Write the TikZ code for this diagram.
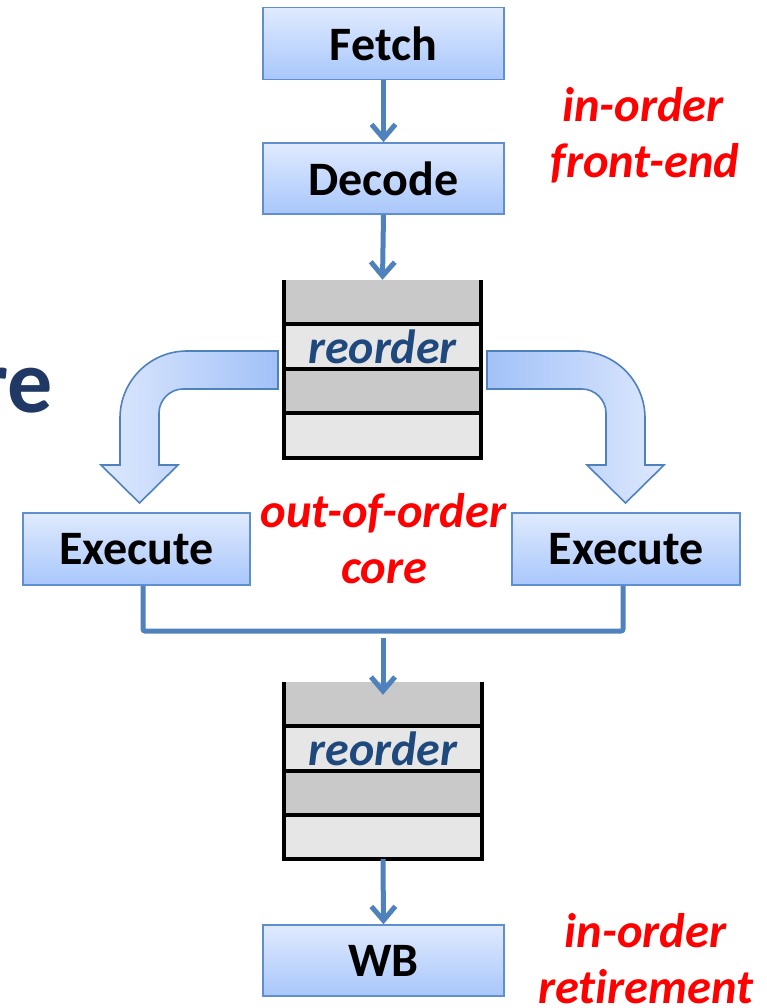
\documentclass[tikz,border=0pt]{standalone}
\usepackage{fontspec}
\setmainfont{Carlito}[Ligatures=CommonOff]
\usetikzlibrary{arrows.meta,calc}

\definecolor{flowblue}{HTML}{4F81BD}
\definecolor{boxtop}{HTML}{E0EAFE}
\definecolor{boxbot}{HTML}{A8C7FB}
\definecolor{boxedge}{HTML}{5F8FCF}
\definecolor{robdark}{HTML}{C9C9C9}
\definecolor{roblight}{HTML}{E6E6E6}
\definecolor{robtext}{HTML}{1F497D}
\definecolor{titlenavy}{HTML}{1F3864}
\definecolor{bendlight}{HTML}{DDE8FD}
\definecolor{benddark}{HTML}{A2C1F8}

% reorder buffer: four stacked slots, open at the top
\newcommand\drawrob[1]{%
  \fill[robdark] (#1.north west) rectangle ($(#1.north east)+(0,44.5)$);
  \fill[roblight] ($(#1.north west)+(0,44.5)$) rectangle ($(#1.north east)+(0,89)$);
  \fill[robdark] ($(#1.north west)+(0,89)$) rectangle ($(#1.north east)+(0,133.5)$);
  \fill[roblight] ($(#1.north west)+(0,133.5)$) rectangle (#1.south east);
  \draw[robedge] ($(#1.north west)+(0,44.5)$) -- ($(#1.north east)+(0,44.5)$);
  \draw[robedge] ($(#1.north west)+(0,89)$) -- ($(#1.north east)+(0,89)$);
  \draw[robedge] ($(#1.north west)+(0,133.5)$) -- ($(#1.north east)+(0,133.5)$);
  \draw[robedge] (#1.north west) -- (#1.south west) -- (#1.south east) -- (#1.north east);
  \node[robtag] (#1tag) at ($(#1.north)+(0,66.75)$) {reorder};
}

\begin{document}
\begin{tikzpicture}[x=1pt,y=-1pt,
  stage/.style={rectangle, draw=boxedge, line width=1.6pt,
    top color=boxtop, bottom color=boxbot,
    minimum width=241pt, minimum height=72pt, inner sep=0pt,
    font=\fontsize{48}{56}\selectfont\bfseries},
  robframe/.style={rectangle, inner sep=0pt, minimum width=197pt},
  robedge/.style={draw=black, line width=4pt},
  robtag/.style={inner sep=0pt, text=robtext,
    font=\fontsize{48}{56}\selectfont\bfseries\itshape},
  flow/.style={draw=flowblue, line width=5pt,
    -{Straight Barb[length=14pt,width=24pt]}},
  link/.style={draw=flowblue, line width=5pt, rounded corners=2pt},
  bendarrow/.style={draw=flowblue, line width=1.6pt, line join=miter},
  redlab/.style={text=red, inner sep=0pt, anchor=base,
    font=\fontsize{48.5}{56}\selectfont\bfseries\itshape}]

\useasboundingbox (0,0) rectangle (767,1008);

% title fragment at the left edge
\node[font=\fontsize{90}{100}\selectfont\bfseries, text=titlenavy,
  anchor=base east, inner sep=0pt] (title) at (53,412) {re};

% in-order front end
\node[stage] (fetch) at (383.5,43.5) {Fetch};
\node[stage, minimum height=71pt] (decode) at (383.5,178.5) {Decode};

% first reorder buffer
\node[robframe, minimum height=178pt] (rob1) at (382.5,369) {};
\drawrob{rob1}

% dispatch to the two execution units
\path[bendarrow, left color=bendlight, right color=benddark]
  (278,351) -- (187,351) .. controls (150,351) and (120,381) .. (120,418)
  -- (120,465) -- (101,465) -- (139.5,503) -- (178,465) -- (159,465)
  -- (159,413) .. controls (159,400) and (170,389) .. (183,389)
  -- (278,389) -- cycle;
\path[bendarrow, left color=benddark, right color=bendlight]
  (487,351) -- (578,351) .. controls (615,351) and (645,381) .. (645,418)
  -- (645,465) -- (664,465) -- (625.5,503) -- (587,465) -- (606,465)
  -- (606,413) .. controls (606,400) and (595,389) .. (582,389)
  -- (487,389) -- cycle;

\node[stage, minimum width=227pt] (exL) at (136.5,549) {Execute};
\node[stage, minimum width=228pt] (exR) at (626,549) {Execute};

% second reorder buffer and retirement
\node[robframe, minimum height=177pt] (rob2) at (383,770.5) {};
\drawrob{rob2}
\node[stage, minimum height=71pt] (wb) at (383.5,960.5) {WB};

% connectors
\draw[flow] (fetch.south) -- (decode.north);
\draw[flow] (decode.south) -- (rob1.north);
\coordinate (join) at (383,631);
\draw[link] ($(exL.south)+(6.5,0)$) |- (join) -| ($(exR.south)+(-3,0)$);
\draw[flow] ($(join)+(0,7)$) -- ($(rob2.north)+(0,13)$);
\draw[flow] (rob2.south) -- (wb.north);

% stage annotations
\node[redlab] (fe1) at (643,122) {in-order};
\node[redlab] (fe2) at (645,178) {front-end};
\node[redlab] (oo1) at (383.5,527) {out-of-order};
\node[redlab] (oo2) at (384,583) {core};
\node[redlab] (rt1) at (645.5,947) {in-order};
\node[redlab] (rt2) at (645.5,1003) {retirement};
\end{tikzpicture}
\end{document}
